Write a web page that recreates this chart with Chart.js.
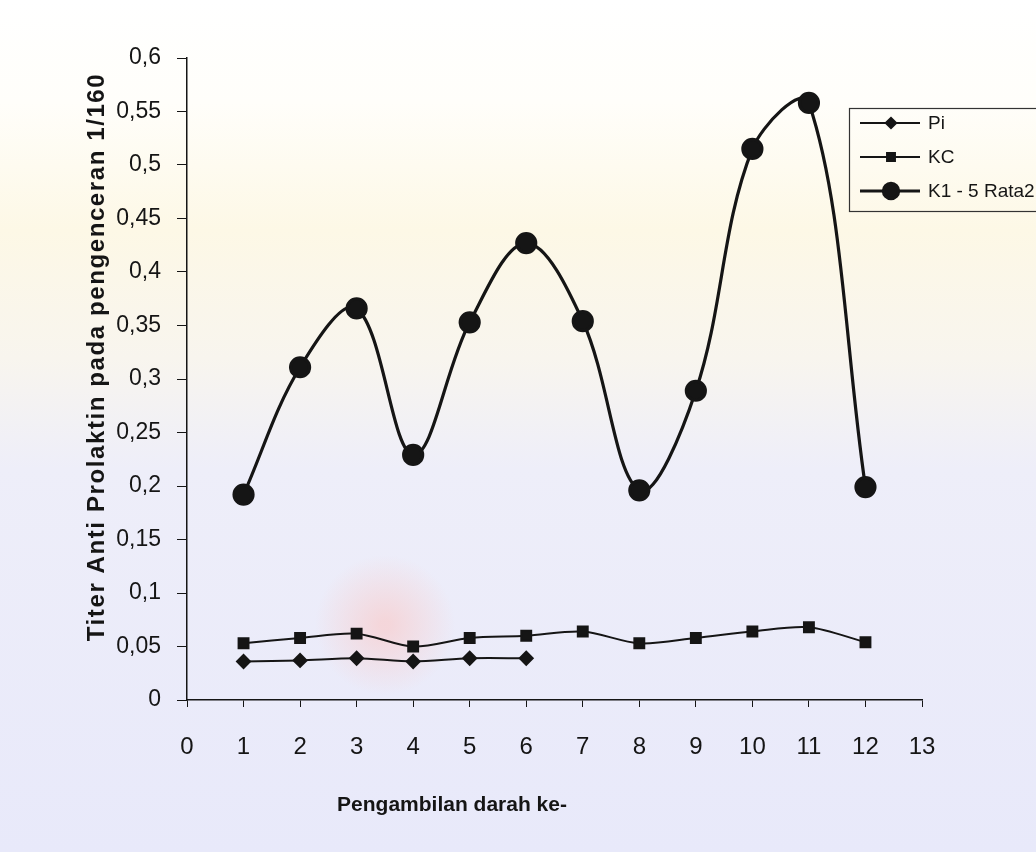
<!DOCTYPE html>
<html>
<head>
<meta charset="utf-8">
<script src="https://cdn.jsdelivr.net/npm/chart.js@4.4.1/dist/chart.umd.min.js"></script>
<style>
    html, body { margin: 0; padding: 0; background: #fff; }
    #wrap { width: 1036px; height: 852px; position: relative; }
</style>
</head>
<body>
<div id="wrap"><canvas id="titerChart"></canvas></div>
<script>
// Data
const sampleNumbers = [1, 2, 3, 4, 5, 6, 7, 8, 9, 10, 11, 12];
const piValues = [0.036, 0.037, 0.039, 0.036, 0.039, 0.039];
const kcValues = [0.053, 0.058, 0.062, 0.050, 0.058, 0.060, 0.064, 0.053, 0.058, 0.064, 0.068, 0.054];
const k15Values = [0.192, 0.311, 0.366, 0.229, 0.353, 0.427, 0.354, 0.196, 0.289, 0.515, 0.558, 0.199];
const seriesNames = ['Pi', 'KC', 'K1 - 5 Rata2'];
const xTicks = [0, 1, 2, 3, 4, 5, 6, 7, 8, 9, 10, 11, 12, 13];
const yTicks = [0, 0.05, 0.1, 0.15, 0.2, 0.25, 0.3, 0.35, 0.4, 0.45, 0.5, 0.55, 0.6];
const xTitle = 'Pengambilan darah ke-';
const yTitle = 'Titer Anti Prolaktin pada pengenceran 1/160';

const ink = '#151515';
const toPoints = (vals) => vals.map((v, i) => ({ x: sampleNumbers[i], y: v }));

// Soft scanned-paper background (watermark tones)
const backgroundPlugin = {
    id: 'paper',
    beforeDraw(chart) {
        const ctx = chart.ctx;
        const g = ctx.createLinearGradient(0, 0, 0, chart.height);
        g.addColorStop(0, '#ffffff');
        g.addColorStop(0.12, '#fffefa');
        g.addColorStop(0.27, '#fdf8e6');
        g.addColorStop(0.42, '#f8f5ee');
        g.addColorStop(0.55, '#eeeef9');
        g.addColorStop(1, '#e8e9fa');
        ctx.save();
        ctx.fillStyle = g;
        ctx.fillRect(0, 0, chart.width, chart.height);
        const r = ctx.createRadialGradient(385, 625, 5, 385, 625, 70);
        r.addColorStop(0, 'rgba(248, 205, 205, 0.7)');
        r.addColorStop(1, 'rgba(248, 205, 205, 0)');
        ctx.fillStyle = r;
        ctx.fillRect(300, 540, 170, 170);
        ctx.restore();
    }
};

// Axis titles and boxed legend drawn as in the scanned figure
const annotationPlugin = {
    id: 'annotations',
    afterDraw(chart) {
        const ctx = chart.ctx;
        ctx.save();
        ctx.fillStyle = ink;
        ctx.textAlign = 'center';
        ctx.textBaseline = 'middle';
        ctx.font = 'bold 21px "Liberation Sans", Arial, sans-serif';
        ctx.fillText(xTitle, 452, 805);
        ctx.translate(97, 357);
        ctx.rotate(-Math.PI / 2);
        ctx.font = 'bold 24px "Liberation Sans", Arial, sans-serif';
        ctx.letterSpacing = '1.6px';
        ctx.fillText(yTitle, 0, 0);
        ctx.restore();

        // legend box
        ctx.save();
        ctx.strokeStyle = '#333';
        ctx.lineWidth = 1.2;
        ctx.strokeRect(849.5, 108.5, 200, 103);
        chart.data.datasets.forEach((ds, i) => {
            const y = 123 + i * 34;
            ctx.strokeStyle = ink;
            ctx.fillStyle = ink;
            ctx.lineWidth = ds.borderWidth;
            ctx.beginPath();
            ctx.moveTo(860, y);
            ctx.lineTo(920, y);
            ctx.stroke();
            Chart.helpers.drawPoint(ctx, {
                pointStyle: ds.pointStyle,
                radius: ds.pointRadius * 0.8,
                rotation: 0,
                borderWidth: 1
            }, 891, y);
            ctx.font = '19px "Liberation Sans", Arial, sans-serif';
            ctx.textAlign = 'left';
            ctx.textBaseline = 'middle';
            ctx.fillText(seriesNames[i], 928, y + 1);
        });
        ctx.restore();
    }
};

const ctx = document.getElementById('titerChart');

new Chart(ctx, {
    type: 'line',
    data: {
        datasets: [
            {
                label: seriesNames[0],
                data: toPoints(piValues),
                borderColor: ink,
                backgroundColor: ink,
                borderWidth: 2,
                pointStyle: 'rectRot',
                pointRadius: 6.5,
                tension: 0.3
            },
            {
                label: seriesNames[1],
                data: toPoints(kcValues),
                borderColor: ink,
                backgroundColor: ink,
                borderWidth: 2,
                pointStyle: 'rect',
                pointRadius: 7,
                tension: 0.3
            },
            {
                label: seriesNames[2],
                data: toPoints(k15Values),
                borderColor: ink,
                backgroundColor: ink,
                borderWidth: 3.2,
                pointStyle: 'circle',
                pointRadius: 9.5,
                tension: 0.36
            }
        ]
    },
    options: {
        responsive: true,
        maintainAspectRatio: false,
        animation: false,
        layout: {
            padding: { top: 58, right: 114, bottom: 0, left: 0 }
        },
        plugins: {
            legend: { display: false },
            tooltip: { enabled: false }
        },
        scales: {
            x: {
                type: 'linear',
                min: 0,
                max: 13,
                afterFit: function(scale) { scale.height = 152; },
                afterBuildTicks: function(scale) {
                    scale.ticks = xTicks.map(v => ({ value: v }));
                },
                grid: {
                    drawOnChartArea: false,
                    drawTicks: true,
                    tickLength: 7,
                    color: ink
                },
                border: { display: true, color: ink, width: 1.5 },
                ticks: {
                    color: ink,
                    padding: 26,
                    font: { family: '"Liberation Sans", Arial, sans-serif', size: 24 }
                }
            },
            y: {
                min: 0,
                max: 0.6,
                afterFit: function(scale) { scale.width = 187; },
                afterBuildTicks: function(scale) {
                    scale.ticks = yTicks.map(v => ({ value: v }));
                },
                grid: {
                    drawOnChartArea: false,
                    drawTicks: true,
                    tickLength: 10,
                    color: ink
                },
                border: { display: true, color: ink, width: 1.5 },
                ticks: {
                    color: ink,
                    padding: 16,
                    font: { family: '"Liberation Sans", Arial, sans-serif', size: 23 },
                    callback: function(value) {
                        return String(Number(value.toFixed(2))).replace('.', ',');
                    }
                }
            }
        }
    },
    plugins: [backgroundPlugin, annotationPlugin]
});
</script>
</body>
</html>
